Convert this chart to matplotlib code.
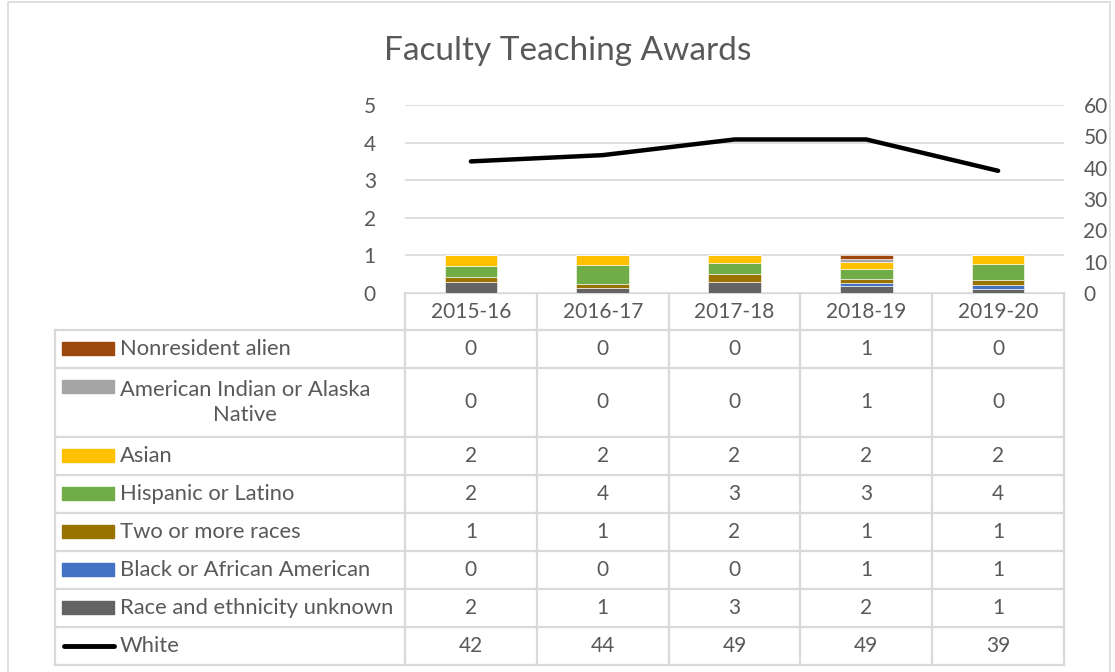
import matplotlib.pyplot as plt
import numpy as np

plt.rcParams['font.family'] = ['Lato', 'DejaVu Sans']

# data
years = ["2015-16", "2016-17", "2017-18", "2018-19", "2019-20"]
groups = ["Nonresident alien", "American Indian or Alaska\nNative", "Asian",
          "Hispanic or Latino", "Two or more races", "Black or African American",
          "Race and ethnicity unknown"]
nonresident = [0, 0, 0, 1, 0]
american_indian = [0, 0, 0, 1, 0]
asian = [2, 2, 2, 2, 2]
hispanic = [2, 4, 3, 3, 4]
two_more = [1, 1, 2, 1, 1]
black = [0, 0, 0, 1, 1]
unknown = [2, 1, 3, 2, 1]
white = [42, 44, 49, 49, 39]

colors = ["#9E480E", "#A5A5A5", "#FFC000", "#70AD47", "#997300", "#4472C4", "#636363"]
series = [nonresident, american_indian, asian, hispanic, two_more, black, unknown]

txt = "#595959"
grid = "#D9D9D9"
W, H = 1115, 672
fs = 15

fig = plt.figure(figsize=(W / 100, H / 100), dpi=100)

# pixel layout
px_l, px_r, px_t, px_b = 405, 1064, 105, 293
ax = fig.add_axes([px_l / W, 1 - px_b / H, (px_r - px_l) / W, (px_b - px_t) / H])

x = np.arange(len(years))
totals = np.sum(np.array(series), axis=0)
bottom = np.zeros(len(years))
# stack bottom-up: unknown first
for vals, c in zip(series[::-1], colors[::-1]):
    frac = np.array(vals) / totals
    ax.bar(x, frac, 0.4, bottom=bottom, color=c, edgecolor="white", linewidth=0.4, zorder=3)
    bottom += frac

ax.set_xlim(-0.5, len(years) - 0.5)
ax.set_ylim(0, 5)
ax.set_yticks(range(6))
ax.yaxis.grid(True, color=grid, linewidth=1.2, zorder=0)
ax.tick_params(axis='y', length=0, labelsize=fs, labelcolor=txt, pad=21)
ax.set_xticks([])
for s in ax.spines.values():
    s.set_visible(False)

ax2 = ax.twinx()
ax2.plot(x, white, color="black", linewidth=3.2, zorder=4, solid_capstyle='round')
ax2.set_ylim(0, 60)
ax2.set_yticks(range(0, 61, 10))
ax2.tick_params(axis='y', length=0, labelsize=fs, labelcolor=txt, pad=14)
for s in ax2.spines.values():
    s.set_visible(False)

fig.text(568 / W, 1 - 51 / H, "Faculty Teaching Awards", ha="center", va="center",
         fontsize=24, color=txt)

# table drawn in pixel coordinates
tax = fig.add_axes([0, 0, 1, 1], zorder=-1)
tax.set_xlim(0, W)
tax.set_ylim(H, 0)
tax.axis("off")

col_edges = np.linspace(px_l, px_r, len(years) + 1)
row_edges = [px_b]
for h in [37, 38, 69, 38, 38, 38, 38, 38, 38]:
    row_edges.append(row_edges[-1] + h)
tab_l = 55
lw = 1.6

# horizontal lines
tax.plot([px_l, px_r], [px_b, px_b], color=grid, lw=lw)
for yv in row_edges[1:]:
    tax.plot([tab_l, px_r], [yv, yv], color=grid, lw=lw)
# vertical lines
for xv in col_edges:
    tax.plot([xv, xv], [px_b, row_edges[-1]], color=grid, lw=lw)
tax.plot([tab_l, tab_l], [row_edges[1], row_edges[-1]], color=grid, lw=lw)
# outer frame
tax.plot([8, 8, 1110], [H, 2, 2], color=grid, lw=1.2)
tax.plot([1110, 1110], [2, H], color=grid, lw=1.2)

centers = (col_edges[:-1] + col_edges[1:]) / 2
for cx, yr in zip(centers, years):
    tax.text(cx, (row_edges[0] + row_edges[1]) / 2, yr, ha="center", va="center",
             fontsize=fs, color=txt)

all_rows = series + [white]
labels = groups + ["White"]
for i, (vals, lab) in enumerate(zip(all_rows, labels)):
    y0, y1 = row_edges[i + 1], row_edges[i + 2]
    yc = (y0 + y1) / 2
    if lab == "White":
        tax.plot([64, 114], [yc, yc], color="black", lw=3.5, solid_capstyle='round')
    else:
        ytop = y0 + 19 - 7
        tax.add_patch(plt.Rectangle((62, ytop), 52, 13, color=colors[i]))
    tax.text(120, yc, lab, ha="left", va="center", fontsize=15.8, color=txt,
             multialignment="center", linespacing=1.3)
    for cx, v in zip(centers, vals):
        tax.text(cx, yc, str(v), ha="center", va="center", fontsize=fs, color=txt)

fig.savefig("out.png", dpi=100)
